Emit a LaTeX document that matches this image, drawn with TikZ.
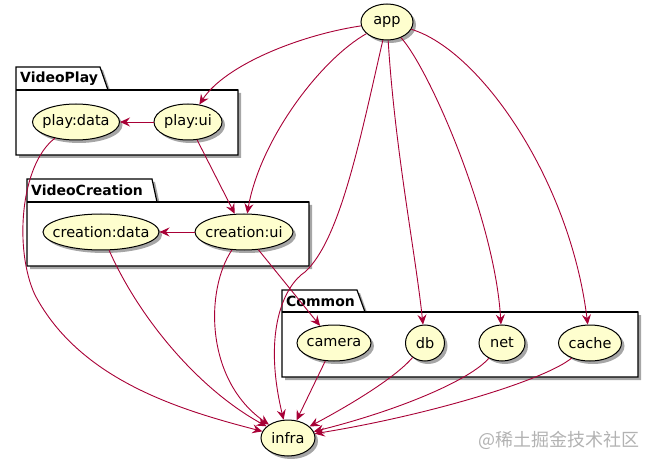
\documentclass[tikz,border=0pt]{standalone}
\usepackage{fontspec}
\setmainfont{DejaVu Sans}
\newfontfamily\cjkfont{Noto Sans CJK SC}
\usepackage{tikz}
\usetikzlibrary{arrows.meta, shapes.geometric, shadows}
\definecolor{ucfill}{HTML}{FEFECE}
\definecolor{deparrow}{HTML}{A80036}
\newcommand{\uctext}[1]{\makebox[0pt]{#1}}

\begin{document}
\begin{tikzpicture}[x=1pt,y=-1pt,
		uc/.style={ellipse,draw=black,line width=1pt,fill=ucfill,minimum height=36pt,
			inner sep=0pt,font=\fontsize{14.5}{16}\selectfont,
			drop shadow={shadow xshift=3pt,shadow yshift=-3pt,opacity=0.35,fill=black}},
		pkg/.style={draw=black,line width=1.2pt,fill=white,
			drop shadow={shadow xshift=3pt,shadow yshift=-3pt,opacity=0.35,fill=black}},
		pkgname/.style={anchor=west,inner sep=0pt,font=\fontsize{14}{16}\selectfont\bfseries},
		dep/.style={draw=deparrow,line width=0.9pt,-{Stealth[length=10pt,width=9pt,inset=3.5pt]}},
		]
		\useasboundingbox (0,0) rectangle (654,468);
		
		% packages
		\draw[pkg] (16,90) |- (100,67) -- (108,90) -| (238,155) -| cycle;
		\draw[line width=1.2pt] (16,90) -- (238,90);
		\node[pkgname] (playtitle) at (20,79) {VideoPlay};
		
		\draw[pkg] (27,202) |- (152,179) -- (157,202) -| (309,266) -| cycle;
		\draw[line width=1.2pt] (27,202) -- (309,202);
		\node[pkgname] (creationtitle) at (31,190) {VideoCreation};
		
		\draw[pkg] (282,312) |- (357,290) -- (365,312) -| (638,377) -| cycle;
		\draw[line width=1.2pt] (282,312) -- (638,312);
		\node[pkgname] (commontitle) at (286,301) {Common};
		
		% components
		\node[uc,minimum width=52pt] (app) at (387,22) {\uctext{app}};
		\node[uc,minimum width=87pt] (playdata) at (76,122) {\uctext{play:data}};
		\node[uc,minimum width=68pt] (playui) at (188,122) {\uctext{play:ui}};
		\node[uc,minimum width=116pt] (creationdata) at (101,232) {\uctext{creation:data}};
		\node[uc,minimum width=98pt] (creationui) at (244,232) {\uctext{creation:ui}};
		\node[uc,minimum width=74pt] (camera) at (334,343) {\uctext{camera}};
		\node[uc,minimum width=39pt] (db) at (425,343) {\uctext{db}};
		\node[uc,minimum width=46pt] (net) at (502,343) {\uctext{net}};
		\node[uc,minimum width=63pt] (cache) at (590,343) {\uctext{cache}};
		\node[uc,minimum width=54pt] (infra) at (288,438) {\uctext{infra}};
		
		% dependencies from app
		\draw[dep] (app) .. controls (300,35) and (225,65) .. (playui);
		\draw[dep] (app) .. controls (320,60) and (260,140) .. (creationui);
		\draw[dep] (app) .. controls (360,140) and (340,240) .. (305,272)
			.. controls (285,285) and (262,330) .. (infra);
		\draw[dep] (app) .. controls (395,150) and (415,250) .. (db);
		\draw[dep] (app) .. controls (430,70) and (495,220) .. (net);
		\draw[dep] (app) .. controls (480,50) and (570,180) .. (cache);
		
		% inside the packages
		\draw[dep] (playui) -- (playdata);
		\draw[dep] (creationui) -- (creationdata);
		\draw[dep] (playui) -- (creationui);
		\draw[dep] (creationui) -- (camera);
		
		% everything ends in infra
		\draw[dep] (playdata) .. controls (20,165) and (14,250) .. (35,295)
			.. controls (80,380) and (180,410) .. (infra);
		\draw[dep] (creationdata) .. controls (140,320) and (200,390) .. (infra);
		\draw[dep] (creationui) .. controls (205,290) and (205,380) .. (infra);
		\draw[dep] (camera) -- (infra);
		\draw[dep] (db) .. controls (395,378) and (350,405) .. (infra);
		\draw[dep] (net) .. controls (470,380) and (400,410) .. (infra);
		\draw[dep] (cache) .. controls (545,380) and (430,415) .. (infra);
		
		\node[text=black!30,font=\cjkfont\fontsize{18}{20}\selectfont,anchor=east] (mark) at (643,440) {@稀土掘金技术社区};
	\end{tikzpicture}
\end{document}
